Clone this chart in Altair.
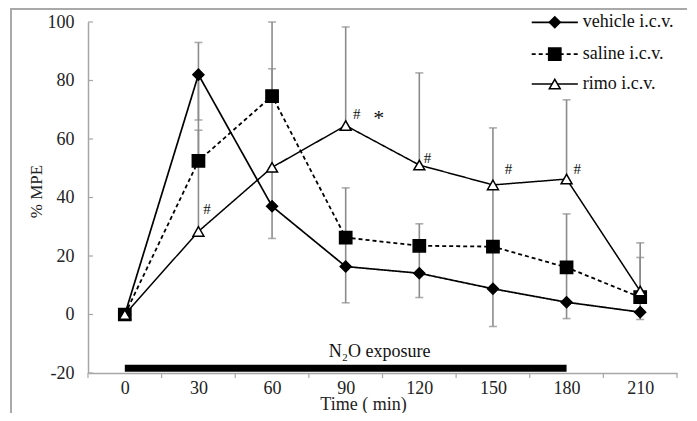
import altair as alt
import pandas as pd

# ---------------- data ----------------
times = [0, 30, 60, 90, 120, 150, 180, 210]
series_names = ["vehicle i.c.v.", "saline i.c.v.", "rimo i.c.v."]

vehicle_mean = [0, 82.0, 37.0, 16.4, 14.1, 8.8, 4.2, 0.8]
vehicle_lo = [0, 66.5, 26.0, 4.0, 5.8, -4.1, -1.4, -1.7]
vehicle_hi = [0, 82.0, 50.0, 26.0, 23.5, 21.7, 16.0, 5.0]

saline_mean = [0, 52.5, 74.7, 26.3, 23.5, 23.2, 16.1, 5.9]
saline_lo = [0, 52.5, 74.7, 26.3, 23.5, 23.2, 16.1, 5.9]
saline_hi = [0, 93.0, 100.0, 43.3, 31.0, 44.3, 34.4, 19.5]

rimo_mean = [0, 28.4, 50.3, 64.6, 51.1, 44.3, 46.3, 8.0]
rimo_lo = [0, 28.4, 50.3, 64.6, 51.1, 44.3, 46.3, 8.0]
rimo_hi = [0, 63.0, 84.0, 98.3, 82.6, 63.8, 73.4, 24.5]

y_ticks = [-20, 0, 20, 40, 60, 80, 100]
x_tick_marks = [-15, 15, 45, 75, 105, 135, 165, 195, 225]

annot_text = ["#", "#", "*", "#", "#", "#"]
annot_x = [33.5, 94.5, 103.5, 123.3, 156.3, 184.4]
annot_y = [36.0, 68.6, 68.6, 53.6, 49.8, 49.8]

exposure_label = "N\u2082O exposure"
exposure_start = [0]
exposure_end = [180]
exposure_level = [-18.4]
exposure_text_x = [103.8]
exposure_text_y = [-12.9]

# legend anchor (in axis units, top-right corner of the plot)
legend_line_x = [165.8, 184.6]
legend_symbol_x = 175.2
legend_text_x = 186.6
legend_rows = [99.9, 89.0, 78.8]

# ---------------- tables ----------------
means = [vehicle_mean, saline_mean, rimo_mean]
los = [vehicle_lo, saline_lo, rimo_lo]
his = [vehicle_hi, saline_hi, rimo_hi]

rows = []
for name, m, lo, hi in zip(series_names, means, los, his):
    for t, a, b, c in zip(times, m, lo, hi):
        rows.append({"time": t, "series": name, "mean": a, "lo": b, "hi": c})
df = pd.DataFrame(rows)
bars = df[(df["hi"] - df["lo"]) > 0]
caps = pd.concat([
    df[df["hi"] != df["mean"]][["time", "hi"]].rename(columns={"hi": "v"}),
    df[df["lo"] != df["mean"]][["time", "lo"]].rename(columns={"lo": "v"}),
])

FONT = "Times New Roman, Liberation Serif, serif"
GRAY = "#8c8c8c"
AX = "#a6a6a6"

xscale = alt.Scale(domain=[-15, 225], nice=False, zero=False)
yscale = alt.Scale(domain=[-20, 100], nice=False, zero=False)
xaxis = alt.Axis(values=times, ticks=False, grid=False, domainColor=AX, domainWidth=1.5,
                 labelFont=FONT, labelFontSize=18, labelColor="#222", labelPadding=6,
                 title="Time ( min)", titleFont=FONT, titleFontSize=18, titleFontWeight="normal",
                 titleColor="#222", titleX=275, titleY=31, titleAlign="center",
                 titleBaseline="middle")
yaxis = alt.Axis(values=y_ticks, ticks=False, grid=False, domainColor=AX, domainWidth=1.5,
                 labelFont=FONT, labelFontSize=18, labelColor="#222", labelPadding=14,
                 labelExpr="datum.value + ''",
                 title="% MPE", titleFont=FONT, titleFontSize=17, titleFontWeight="normal",
                 titleColor="#222", titleX=-52, titleY=169, titleAngle=270,
                 titleAlign="center", titleBaseline="middle")


def X(f):
    return alt.X(f, type="quantitative", scale=xscale, axis=xaxis, title="Time ( min)")


def Y(f):
    return alt.Y(f, type="quantitative", scale=yscale, axis=yaxis, title="% MPE")


layers = []

# outer frame
layers.append(alt.Chart(pd.DataFrame({"a": [0]})).mark_rect(
    fill="transparent", stroke="#a9a9a9", strokeWidth=2).encode(
    x=alt.value(-77), x2=alt.value(601), y=alt.value(-13), y2=alt.value(420)))

# error bars
layers.append(alt.Chart(bars).mark_rule(color=GRAY, strokeWidth=1.6).encode(
    x=X("time"), y=Y("lo"), y2=alt.Y2("hi")))
layers.append(alt.Chart(caps).mark_tick(orient="horizontal", color=GRAY, size=8,
                                        thickness=1.6).encode(x=X("time"), y=Y("v")))

# y ticks (inside) and x ticks (between categories)
layers.append(alt.Chart(pd.DataFrame({"v": y_ticks})).mark_rule(color=AX, strokeWidth=1.2).encode(
    y=Y("v"), x=alt.value(0), x2=alt.value(5)))
layers.append(alt.Chart(pd.DataFrame({"t": x_tick_marks})).mark_rule(color=AX, strokeWidth=1.2).encode(
    x=X("t"), y=alt.value(351), y2=alt.value(356)))

styles = {
    "vehicle i.c.v.": dict(dash=[1, 0], shape="diamond", fill="black", size=120, lw=1.7),
    "saline i.c.v.": dict(dash=[4, 3], shape="square", fill="black", size=150, lw=1.8),
    "rimo i.c.v.": dict(dash=[1, 0], shape="triangle-up", fill="white", size=120, lw=1.5),
}

for name in series_names:
    s = styles[name]
    sub = df[df["series"] == name]
    layers.append(alt.Chart(sub).mark_line(color="black", strokeWidth=s["lw"],
                                           strokeDash=s["dash"]).encode(
        x=X("time"), y=Y("mean"), order="time:Q"))
for name in series_names:
    s = styles[name]
    sub = df[df["series"] == name]
    layers.append(alt.Chart(sub).mark_point(shape=s["shape"], filled=True, fill=s["fill"],
                                            stroke="black", strokeWidth=1.5, size=s["size"],
                                            opacity=1).encode(x=X("time"), y=Y("mean")))

# significance annotations
ann = pd.DataFrame({"txt": annot_text, "x": annot_x, "y": annot_y})
layers.append(alt.Chart(ann[ann["txt"] == "#"]).mark_text(font=FONT, fontSize=15, color="#111",
                                                           baseline="middle").encode(
    x=X("x"), y=Y("y"), text="txt:N"))
layers.append(alt.Chart(ann[ann["txt"] == "*"]).mark_text(font=FONT, fontSize=22,
                                                           color="#111", baseline="middle",
                                                           dy=4).encode(
    x=X("x"), y=Y("y"), text="txt:N"))

# N2O exposure bar and label
expo = pd.DataFrame({"x0": exposure_start, "x1": exposure_end, "y": exposure_level})
layers.append(alt.Chart(expo).mark_rule(color="black", strokeWidth=7, strokeCap="butt").encode(
    x=X("x0"), x2=alt.X2("x1"), y=Y("y")))
layers.append(alt.Chart(pd.DataFrame({"x": exposure_text_x, "y": exposure_text_y,
                                      "txt": [exposure_label]})).mark_text(
    font=FONT, fontSize=18, color="#111", baseline="middle").encode(
    x=X("x"), y=Y("y"), text="txt:N"))

# custom legend
for name, ry in zip(series_names, legend_rows):
    s = styles[name]
    one = pd.DataFrame({"label": [name], "x0": [legend_line_x[0]], "x1": [legend_line_x[1]],
                        "xs": [legend_symbol_x], "xt": [legend_text_x], "y": [ry]})
    layers.append(alt.Chart(one).mark_rule(color="black", strokeWidth=s["lw"],
                                           strokeDash=s["dash"]).encode(
        x=X("x0"), x2=alt.X2("x1"), y=Y("y")))
    layers.append(alt.Chart(one).mark_point(shape=s["shape"], filled=True, fill=s["fill"],
                                            stroke="black", strokeWidth=1.5, size=s["size"],
                                            opacity=1).encode(x=X("xs"), y=Y("y")))
    layers.append(alt.Chart(one).mark_text(font=FONT, fontSize=18, color="#111", align="left",
                                           baseline="middle").encode(
        x=X("xt"), y=Y("y"), text="label:N"))

chart = alt.layer(*layers).properties(
    width=589, height=351,
    autosize=alt.AutoSizeParams(type="none"),
    padding={"left": 80, "top": 14, "right": 10, "bottom": 40},
    background="white",
).configure_view(stroke=None)

chart.save("out.html", embed_options={"renderer": "svg", "actions": False})
